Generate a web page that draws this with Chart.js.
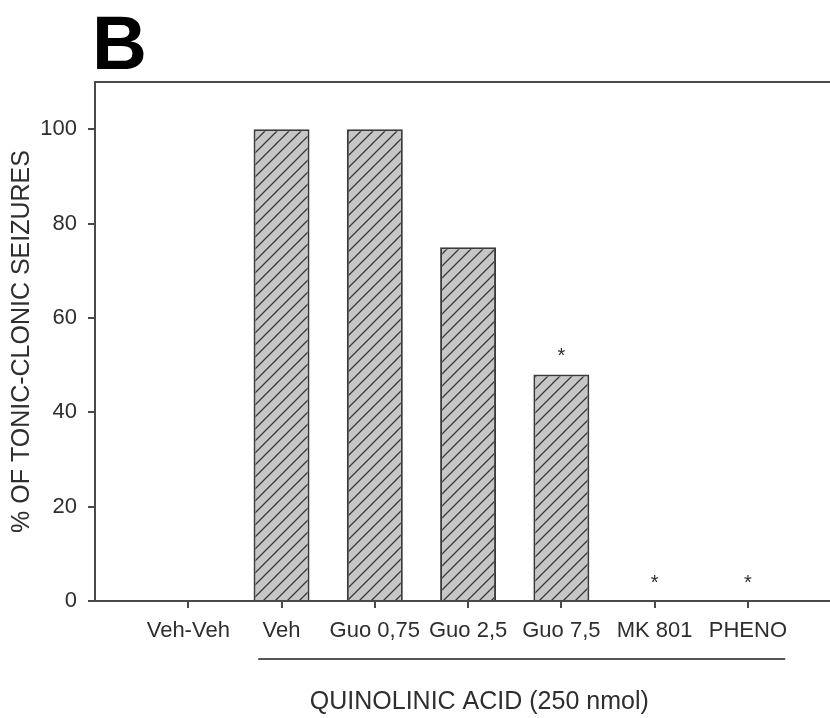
<!DOCTYPE html>
<html><head><meta charset="utf-8">
<script src="https://cdn.jsdelivr.net/npm/chart.js@4"></script>
<style>html,body{margin:0;padding:0;background:#fff}#wrap{width:830px;height:718px}</style>
</head><body><div id="wrap"><canvas id="c" width="830" height="718"></canvas></div>
<script>
const categories = ['Veh-Veh','Veh','Guo 0,75','Guo 2,5','Guo 7,5','MK 801','PHENO'];
const seizurePct = [0, 100, 100, 75, 48, 0, 0];
const significant = [false, false, false, false, true, true, true];
const yTicks = [0, 20, 40, 60, 80, 100];
const panelLetter = 'B';
const yTitle = '% OF TONIC-CLONIC SEIZURES';
const groupLabel = 'QUINOLINIC ACID (250 nmol)';
const groupFirst = 1, groupLast = 6;

const FONT = "'Liberation Sans', Arial, sans-serif";
const AXIS = '#4a4a4a';
const TEXT = '#2e2e2e';

function hatch() {
  const s = 12, c = document.createElement('canvas');
  c.width = s; c.height = s;
  const g = c.getContext('2d');
  g.fillStyle = '#c6c6c6'; g.fillRect(0, 0, s, s);
  g.strokeStyle = '#3a3a3a'; g.lineWidth = 1.3;
  g.beginPath();
  g.moveTo(-1, s + 1); g.lineTo(s + 1, -1);
  g.moveTo(-1, 1); g.lineTo(1, -1);
  g.moveTo(s - 1, s + 1); g.lineTo(s + 1, s - 1);
  g.stroke();
  return g.createPattern(c, 'repeat');
}

const extras = {
  id: 'extras',
  afterDraw(chart) {
    const {ctx, chartArea: a, scales: {x, y}} = chart;
    ctx.save();
    // top frame line
    ctx.strokeStyle = AXIS; ctx.lineWidth = 2;
    ctx.beginPath(); ctx.moveTo(a.left - 1, a.top); ctx.lineTo(chart.width, a.top); ctx.stroke();
    // panel letter
    ctx.fillStyle = '#000';
    ctx.font = `bold 76px ${FONT}`;
    ctx.textBaseline = 'alphabetic'; ctx.textAlign = 'left';
    ctx.fillText(panelLetter, a.left - 3, a.top - 13);
    // asterisks
    ctx.fillStyle = TEXT;
    ctx.font = `20px ${FONT}`;
    ctx.textAlign = 'center'; ctx.textBaseline = 'middle';
    significant.forEach((s, i) => {
      if (!s) return;
      ctx.fillText('*', x.getPixelForValue(i), y.getPixelForValue(seizurePct[i]) - 18);
    });
    // group bracket
    const y0 = a.bottom + 58;
    ctx.strokeStyle = '#555'; ctx.lineWidth = 2;
    ctx.beginPath();
    ctx.moveTo(x.getPixelForValue(groupFirst - 0.25), y0);
    ctx.lineTo(x.getPixelForValue(groupLast + 0.4), y0);
    ctx.stroke();
    ctx.fillStyle = TEXT;
    ctx.font = `25px ${FONT}`;
    ctx.textAlign = 'center'; ctx.textBaseline = 'middle';
    ctx.fillText(groupLabel, x.getPixelForValue((groupFirst + groupLast) / 2 - 0.38), a.bottom + 101);
    ctx.restore();
  }
};

new Chart(document.getElementById('c'), {
  type: 'bar',
  data: {
    datasets: [{
      data: categories.map((c, i) => ({x: i, y: seizurePct[i]})),
      backgroundColor: hatch(),
      borderColor: '#3a3a3a',
      borderWidth: 2,
      categoryPercentage: 0.6,
      barPercentage: 1
    }]
  },
  options: {
    responsive: false,
    animation: false,
    devicePixelRatio: 1,
    layout: {padding: {top: 82, left: 0, right: 0, bottom: 0}},
    plugins: {legend: {display: false}, tooltip: {enabled: false}},
    scales: {
      x: {
        type: 'linear', min: -1, max: 6.88, offset: false,
        afterBuildTicks: s => { s.ticks = categories.map((_, i) => ({value: i})); },
        afterFit: s => { s.height = 117; },
        grid: {offset: false, drawOnChartArea: false, color: AXIS, lineWidth: 2, tickLength: 7},
        border: {color: AXIS, width: 2},
        ticks: {font: {family: FONT, size: 22}, color: TEXT, padding: 10, autoSkip: false, maxRotation: 0,
          callback: v => categories[v] ?? ''}
      },
      y: {
        min: 0, max: 110,
        afterBuildTicks: s => { s.ticks = yTicks.map(v => ({value: v})); },
        afterFit: s => { s.width = 95; },
        grid: {drawOnChartArea: false, color: AXIS, lineWidth: 2, tickLength: 7},
        border: {color: AXIS, width: 2},
        ticks: {font: {family: FONT, size: 22}, color: TEXT, padding: 11},
        title: {display: true, text: yTitle, font: {family: FONT, size: 25}, color: TEXT, padding: {top: 7, bottom: 0}}
      }
    }
  },
  plugins: [extras]
});
</script>
</body></html>
